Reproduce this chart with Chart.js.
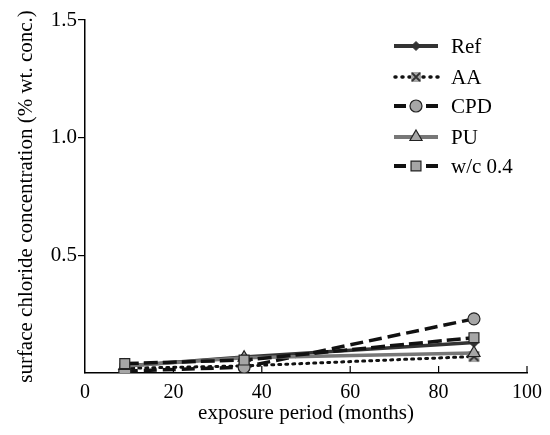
<!DOCTYPE html>
<html><head><meta charset="utf-8">
<script src="https://cdn.jsdelivr.net/npm/chart.js@4.4.0/dist/chart.umd.min.js"></script>
<style>html,body{margin:0;padding:0;background:#fff}#wrap{width:550px;height:435px}</style>
</head><body><div id="wrap"><canvas id="c" width="550" height="435"></canvas></div>
<script>
const seriesNames = ['Ref', 'AA', 'CPD', 'PU', 'w/c 0.4'];
const months = [9, 36, 88];
const refValues = [0.03, 0.068, 0.13];
const aaValues = [0.02, 0.03, 0.07];
const cpdValues = [0.008, 0.025, 0.23];
const puValues = [0.03, 0.065, 0.085];
const wc04Values = [0.04, 0.055, 0.15];
const xTickValues = [0, 20, 40, 60, 80, 100];
const yTickValues = [0.5, 1.0, 1.5];

const FONT = '"Liberation Serif", "Times New Roman", serif';
const GRAY = '#a6a6a6';

function markerCanvas(size) {
  const c = document.createElement('canvas');
  c.width = size; c.height = size;
  const g = c.getContext('2d');
  g.fillStyle = GRAY; g.fillRect(1, 1, size - 2, size - 2);
  g.strokeStyle = '#333'; g.lineWidth = 1.8;
  g.beginPath(); g.moveTo(2,2); g.lineTo(size-2,size-2); g.moveTo(size-2,2); g.lineTo(2,size-2); g.stroke();
  return c;
}
const boxX = markerCanvas(13);
const boxXLegend = markerCanvas(12);

const pts = v => months.map((m, i) => ({x: m, y: v[i]}));

const datasets = [
  {label: seriesNames[0], order: 4, data: pts(refValues), borderColor: '#333', borderWidth: 3.5, pointStyle: 'rectRot', pointRadius: 5, pointBackgroundColor: '#333', pointBorderColor: '#333', pointBorderWidth: 1, legendRadius: 4.5},
  {label: seriesNames[1], order: 3, data: pts(aaValues), borderColor: '#111', borderWidth: 3, borderDash: [2, 5], borderCapStyle: 'round', pointStyle: boxX, pointRadius: 6, legendStyle: boxXLegend},
  {label: seriesNames[2], order: 2, data: pts(cpdValues), borderColor: '#111', borderWidth: 3.5, borderDash: [13, 6], pointStyle: 'circle', pointRadius: 6, pointBackgroundColor: GRAY, pointBorderColor: '#222', pointBorderWidth: 1.2, legendRadius: 6},
  {label: seriesNames[3], order: 1, data: pts(puValues), borderColor: '#777', borderWidth: 3.5, pointStyle: 'triangle', pointRadius: 7, pointBackgroundColor: GRAY, pointBorderColor: '#222', pointBorderWidth: 1.2, legendRadius: 7},
  {label: seriesNames[4], order: 0, data: pts(wc04Values), borderColor: '#111', borderWidth: 3.5, borderDash: [14, 5], pointStyle: 'rect', pointRadius: 7, pointBackgroundColor: GRAY, pointBorderColor: '#222', pointBorderWidth: 1.2, legendRadius: 7}
];

const customPlugin = {
  id: 'custom',
  afterDraw(chart) {
    const ctx = chart.ctx;
    const xs = chart.scales.x;
    const ca = chart.chartArea;
    ctx.save();
    ctx.strokeStyle = '#000'; ctx.lineWidth = 1.2;
    xTickValues.forEach(v => {
      if (v === 0) return;
      const px = xs.getPixelForValue(v);
      ctx.beginPath(); ctx.moveTo(px, ca.bottom); ctx.lineTo(px, ca.bottom - 7); ctx.stroke();
    });
    const lx0 = 394, lx1 = 438, tx = 451;
    const rows = [46, 77, 106, 137, 166];
    chart.data.datasets.forEach((ds, i) => {
      const y = rows[i];
      ctx.save();
      ctx.strokeStyle = ds.borderColor; ctx.lineWidth = ds.borderWidth + 0.5;
      ctx.lineCap = ds.borderCapStyle || 'butt';
      ctx.setLineDash(ds.borderDash ? (ds.borderCapStyle ? [1, 6] : [9, 6]) : []);
      ctx.beginPath();
      if (ds.borderDash && !ds.borderCapStyle) {
        ctx.setLineDash([]);
        ctx.moveTo(lx0, y); ctx.lineTo(lx0 + 12, y);
        ctx.moveTo(lx1 - 12, y); ctx.lineTo(lx1, y);
      } else {
        ctx.moveTo(lx0 + (ds.borderCapStyle ? 1 : 0), y); ctx.lineTo(lx1, y);
      }
      ctx.stroke();
      ctx.restore();
      const cx = (lx0 + lx1) / 2;
      ctx.save();
      ctx.fillStyle = ds.pointBackgroundColor || GRAY;
      ctx.strokeStyle = ds.pointBorderColor || '#222';
      ctx.lineWidth = ds.pointBorderWidth || 1;
      if (typeof ds.pointStyle === 'string') {
        Chart.helpers.drawPoint(ctx, {pointStyle: ds.pointStyle, radius: ds.legendRadius, borderWidth: ds.pointBorderWidth || 1, rotation: 0}, cx, y);
      } else {
        ctx.drawImage(ds.legendStyle, cx - 6, y - 6);
      }
      ctx.restore();
      ctx.fillStyle = '#000';
      ctx.font = '21px ' + FONT;
      ctx.textBaseline = 'middle';
      ctx.textAlign = 'left';
      ctx.fillText(ds.label, tx, y + 1);
    });
    ctx.restore();
  }
};

new Chart(document.getElementById('c'), {
  type: 'line',
  data: {datasets},
  options: {
    responsive: false,
    animation: false,
    layout: {padding: {left: 0, right: 23, top: 20, bottom: 0}},
    plugins: {legend: {display: false}, tooltip: {enabled: false}},
    scales: {
      x: {
        type: 'linear', min: 0, max: 100,
        afterBuildTicks: s => { s.ticks = xTickValues.map(v => ({value: v})); },
        afterFit: s => { s.height = 62; },
        grid: {display: false},
        border: {display: true, color: '#000', width: 1.5},
        ticks: {color: '#000', font: {family: FONT, size: 20}, padding: 0, maxRotation: 0, autoSkip: false, callback: v => String(v)},
        title: {display: true, text: 'exposure period (months)', color: '#000', font: {family: FONT, size: 21}, padding: {top: 0, bottom: 9}}
      },
      y: {
        type: 'linear', min: 0, max: 1.5,
        afterBuildTicks: s => { s.ticks = yTickValues.map(v => ({value: v})); },
        afterFit: s => { s.width = 85; },
        grid: {display: true, drawOnChartArea: false, drawTicks: true, tickLength: 7, color: '#000', lineWidth: 1.2},
        border: {display: true, color: '#000', width: 1.5},
        ticks: {color: '#000', font: {family: FONT, size: 21}, padding: 1, callback: v => v.toFixed(1)},
        title: {display: true, text: 'surface chloride concentration (% wt. conc.)', color: '#000', font: {family: FONT, size: 21}, padding: {top: 14, bottom: 0}}
      }
    }
  },
  plugins: [customPlugin]
});
</script>
</body></html>
